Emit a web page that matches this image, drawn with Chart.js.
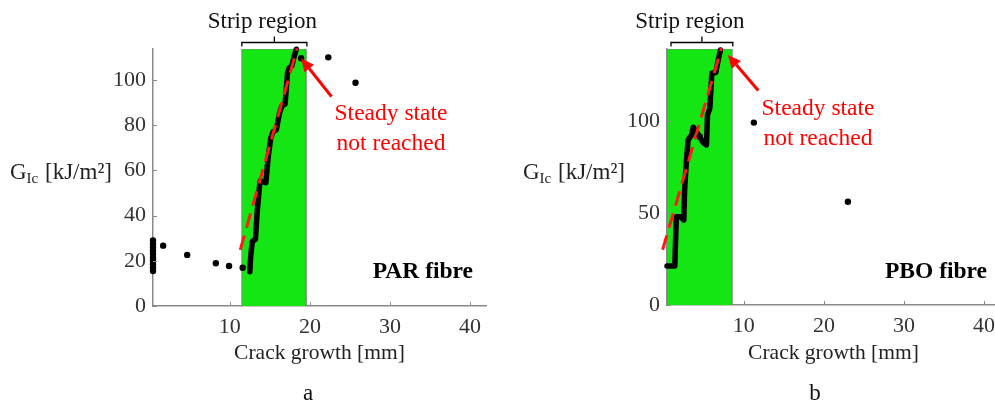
<!DOCTYPE html>
<html>
<head>
<meta charset="utf-8">
<script src="https://cdn.jsdelivr.net/npm/chart.js@4.4.0/dist/chart.umd.min.js"></script>
<style>
    html, body { margin: 0; padding: 0; background: #fff; width: 995px; height: 405px; overflow: hidden; }
    .panel { position: absolute; top: 0; }
</style>
</head>
<body>
<div class="panel" style="left:0"><canvas id="grafica-par" width="500" height="405"></canvas></div>
<div class="panel" style="left:500px"><canvas id="grafica-pbo" width="510" height="405"></canvas></div>
<script>
// ── Datos ─────────────────────────────────────────────────────
const ticksX      = [10, 20, 30, 40];
const ticksYPar   = [0, 20, 40, 60, 80, 100];
const ticksYPbo   = [0, 50, 100];
const rangoX      = [0.4, 42];
const maxYPar     = 113.7;
const maxYPbo     = 139.1;

// PAR fibre
const tiraPar     = [11.5, 19.5];
const curvaParX   = [12.5, 12.6, 12.8, 13.2, 13.4, 13.7, 13.8, 14.5, 14.8, 15.1, 15.4, 15.8, 16.2, 16.5, 16.9, 17.2, 17.4, 17.75, 18.0, 18.3];
const curvaParY   = [15.2, 21.8, 28.5, 29.5, 41.0, 52.8, 55.4, 54.6, 66.1, 74.2, 77.1, 77.9, 85.3, 88.5, 89.4, 103.0, 105.2, 106.2, 110.0, 113.6];
const puntosParX  = [0.4, 0.4, 0.4, 0.4, 0.4, 0.4, 0.4, 0.4, 0.4, 0.4, 1.67, 4.67, 8.25, 9.9, 11.6, 18.9, 22.3, 25.7];
const puntosParY  = [15.5, 17, 18.5, 20, 21.5, 23, 24.5, 26, 27.5, 29, 26.7, 22.6, 18.9, 17.7, 16.9, 109.6, 110.0, 98.8];
const ajusteParX  = [11.3, 18.4];
const ajusteParY  = [24.8, 114.0];
const flechaPar   = [[22.7, 92.6], [18.9, 109.6]];

// PBO fibre
const tiraPbo     = [0.4, 8.5];
const curvaPboX   = [0.4, 1.375, 1.5, 1.58, 2.08, 2.5, 2.6, 2.83, 3.04, 3.46, 3.67, 4.08, 4.92, 5.33, 5.46, 5.75, 6.0, 6.5, 6.8, 7.08];
const curvaPboY   = [21.2, 21.2, 39.0, 48.0, 48.0, 46.2, 62.5, 78.8, 89.7, 92.4, 96.6, 94.2, 88.2, 87.0, 103.3, 106.9, 125.9, 126.3, 133.2, 138.6];
const puntosPboX  = [4.5, 11.25, 23.0];
const puntosPboY  = [91.5, 99.1, 56.1];
const ajustePboX  = [-0.15, 7.2];
const ajustePboY  = [30.0, 139.5];
const flechaPbo   = [[11.8, 116.5], [8.0, 135.9]];

const pares = (xs, ys) => xs.map((x, i) => ({ x, y: ys[i] }));
const SERIF = '"Liberation Serif", "Times New Roman", serif';

// ── Plugin de anotaciones ─────────────────────────────────────
const anotaciones = {
    id: 'anotaciones',
    afterDraw(chart, args, o) {
        const ctx = chart.ctx, xs = chart.scales.x, ys = chart.scales.y, area = chart.chartArea;
        ctx.save();

        // marcas de los ejes hacia adentro
        ctx.strokeStyle = '#8a8a8a';
        ctx.lineWidth = 1;
        ctx.beginPath();
        xs.ticks.forEach(t => {
            const px = Math.round(xs.getPixelForValue(t.value)) + 0.5;
            ctx.moveTo(px, area.bottom); ctx.lineTo(px, area.bottom - 4);
        });
        ys.ticks.forEach(t => {
            const py = Math.round(ys.getPixelForValue(t.value)) + 0.5;
            ctx.moveTo(area.left, py); ctx.lineTo(area.left + 4, py);
        });
        ctx.stroke();

        // llave "Strip region"
        const b0 = xs.getPixelForValue(o.tira[0]) + o.llaveDx, b1 = xs.getPixelForValue(o.tira[1]) + 1;
        const bc = (b0 + b1) / 2, by = area.top - 6.5;
        ctx.strokeStyle = '#000';
        ctx.lineWidth = 1.3;
        ctx.beginPath();
        ctx.moveTo(b0, by + 4); ctx.lineTo(b0, by); ctx.lineTo(b1, by); ctx.lineTo(b1, by + 4);
        ctx.moveTo(bc, by); ctx.lineTo(bc, by - 6);
        ctx.stroke();
        ctx.fillStyle = '#111';
        ctx.font = `23px ${SERIF}`;
        ctx.textAlign = 'center';
        ctx.textBaseline = 'alphabetic';
        ctx.fillText('Strip region', bc - 12, 28);

        // flecha roja
        const [desde, hasta] = o.flecha;
        const x0 = xs.getPixelForValue(desde[0]), y0 = ys.getPixelForValue(desde[1]);
        const x1 = xs.getPixelForValue(hasta[0]), y1 = ys.getPixelForValue(hasta[1]);
        const ang = Math.atan2(y1 - y0, x1 - x0);
        const largo = 13, ancho = 6;
        const xb = x1 - largo * Math.cos(ang), yb = y1 - largo * Math.sin(ang);
        ctx.strokeStyle = '#ff0000';
        ctx.fillStyle = '#ff0000';
        ctx.lineWidth = 3;
        ctx.beginPath(); ctx.moveTo(x0, y0); ctx.lineTo(xb, yb); ctx.stroke();
        ctx.beginPath();
        ctx.moveTo(x1, y1);
        ctx.lineTo(xb + ancho * Math.sin(ang), yb - ancho * Math.cos(ang));
        ctx.lineTo(xb - ancho * Math.sin(ang), yb + ancho * Math.cos(ang));
        ctx.closePath(); ctx.fill();

        // texto rojo
        ctx.font = `23.5px ${SERIF}`;
        ctx.textAlign = 'center';
        ctx.fillText('Steady state', o.rojo[0], o.rojo[1]);
        ctx.fillText('not reached', o.rojo[0], o.rojo[1] + 30);

        // etiqueta de fibra
        ctx.fillStyle = '#000';
        ctx.font = `bold 23.5px ${SERIF}`;
        ctx.textAlign = 'right';
        ctx.fillText(o.fibra, o.fibraX, 278);

        // título eje Y con subíndice
        ctx.fillStyle = '#222';
        ctx.textAlign = 'left';
        let tx = o.tituloY[0];
        const ty = o.tituloY[1];
        ctx.font = `23px ${SERIF}`;
        ctx.fillText('G', tx, ty); tx += ctx.measureText('G').width;
        ctx.font = `15px ${SERIF}`;
        ctx.fillText('Ic', tx, ty + 4); tx += ctx.measureText('Ic').width + 1;
        ctx.font = `23px ${SERIF}`;
        ctx.fillText(' [kJ/m²]', tx, ty);

        // título eje X y letra del panel
        ctx.font = `21.5px ${SERIF}`;
        ctx.textAlign = 'center';
        ctx.fillText('Crack growth [mm]', (area.left + area.right) / 2, 359);
        ctx.font = `23px ${SERIF}`;
        ctx.fillStyle = '#111';
        ctx.fillText(o.letra, o.letraX, 400);

        ctx.restore();
    }
};

// ── Construcción de cada gráfica ──────────────────────────────
function crearGrafica(id, cfg) {
    const ctx = document.getElementById(id).getContext('2d');
    return new Chart(ctx, {
        type: 'scatter',
        data: {
            datasets: [
                {
                    data: pares(cfg.puntosX, cfg.puntosY),
                    pointRadius: 3.2,
                    pointBackgroundColor: '#000',
                    pointBorderWidth: 0,
                    showLine: false,
                    clip: false,
                    order: 0,
                },
                {
                    data: pares(cfg.ajusteX, cfg.ajusteY),
                    showLine: true,
                    borderColor: '#ff1a1a',
                    borderWidth: 3,
                    borderDash: [15, 8],
                    pointRadius: 0,
                    clip: false,
                    order: 1,
                },
                {
                    data: pares(cfg.curvaX, cfg.curvaY),
                    showLine: true,
                    borderColor: '#000',
                    borderWidth: 5.5,
                    borderCapStyle: 'round',
                    borderJoinStyle: 'round',
                    pointRadius: 0,
                    clip: 4,
                    order: 2,
                },
                {
                    data: [
                        { x: cfg.tira[0], y: 0 },
                        { x: cfg.tira[0], y: cfg.maxY },
                        { x: cfg.tira[1], y: cfg.maxY },
                        { x: cfg.tira[1], y: 0 },
                    ],
                    showLine: true,
                    borderColor: '#6f8f6f',
                    borderWidth: 1,
                    backgroundColor: '#14e614',
                    fill: 'origin',
                    pointRadius: 0,
                    order: 3,
                },
            ]
        },
        options: {
            responsive: false,
            animation: false,
            devicePixelRatio: 1,
            layout: { padding: { left: 0, right: cfg.padDer, top: 49, bottom: cfg.padInf } },
            plugins: {
                legend: { display: false },
                tooltip: { enabled: false },
                anotaciones: cfg.anot,
            },
            scales: {
                x: {
                    type: 'linear',
                    min: rangoX[0],
                    max: rangoX[1],
                    afterBuildTicks: s => { s.ticks = ticksX.map(v => ({ value: v })); },
                    afterFit: s => { s.height = 30; },
                    grid: { display: false, drawTicks: false },
                    border: { display: true, color: '#8a8a8a', width: 1.5 },
                    ticks: { padding: 8, color: '#333', font: { family: SERIF, size: 22 }, maxRotation: 0 },
                },
                y: {
                    type: 'linear',
                    min: 0,
                    max: cfg.maxY,
                    afterBuildTicks: s => { s.ticks = cfg.ticksY.map(v => ({ value: v })); },
                    afterFit: s => { s.width = cfg.anchoY; },
                    grid: { display: false, drawTicks: false },
                    border: { display: true, color: '#8a8a8a', width: 1.5 },
                    ticks: { padding: 7, color: '#333', font: { family: SERIF, size: 22 } },
                },
            },
        },
        plugins: [anotaciones],
    });
}

crearGrafica('grafica-par', {
    puntosX: puntosParX, puntosY: puntosParY,
    ajusteX: ajusteParX, ajusteY: ajusteParY,
    curvaX: curvaParX, curvaY: curvaParY,
    tira: tiraPar, maxY: maxYPar, ticksY: ticksYPar,
    anchoY: 153, padDer: 14, padInf: 69,
    anot: {
        tira: tiraPar, llaveDx: 0, flecha: flechaPar,
        rojo: [391, 120], fibra: 'PAR fibre', fibraX: 473,
        tituloY: [10, 179], letra: 'a', letraX: 308,
    },
});

crearGrafica('grafica-pbo', {
    puntosX: puntosPboX, puntosY: puntosPboY,
    ajusteX: ajustePboX, ajusteY: ajustePboY,
    curvaX: curvaPboX, curvaY: curvaPboY,
    tira: tiraPbo, maxY: maxYPbo, ticksY: ticksYPbo,
    anchoY: 167, padDer: 10, padInf: 70,
    anot: {
        tira: tiraPbo, llaveDx: 4, flecha: flechaPbo,
        rojo: [318, 115], fibra: 'PBO fibre', fibraX: 487,
        tituloY: [23, 179], letra: 'b', letraX: 315,
    },
});
</script>
</body>
</html>
